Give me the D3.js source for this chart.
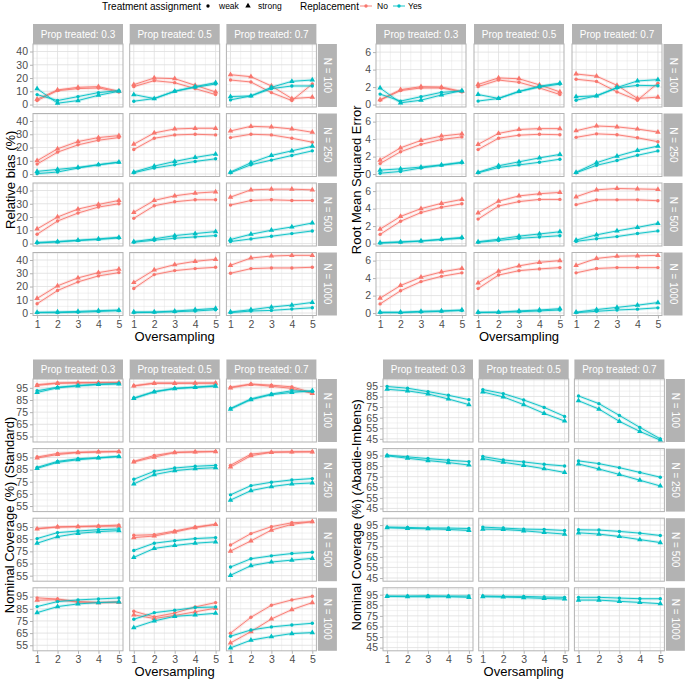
<!DOCTYPE html>
<html><head><meta charset="utf-8">
<script src="https://cdn.jsdelivr.net/npm/d3@7"></script>
<style>
body{margin:0;background:#fff}
text{font-family:"Liberation Sans",Arial,Helvetica,sans-serif}
</style>
</head><body>
<svg id="chart" width="685" height="682"></svg>
<script>
// ---------- categories ----------
const oversampling = [1, 2, 3, 4, 5];
const propTreated = ["0.3", "0.5", "0.7"];
const sampleSizes = [100, 250, 500, 1000];
const replacementLevels = ["No", "Yes"];
const assignmentLevels = ["weak", "strong"];
const replacementColors = ["#F8766D", "#00BFC4"];

// ---------- tick labels ----------
const biasTicks = [0, 10, 20, 30, 40];
const rmseTicks = [0, 2, 4, 6];
const stdTicks = [55, 65, 75, 85, 95];
const aiTicks = [45, 55, 65, 75, 85, 95];

// ---------- values: [N row][prop col][oversampling 1..5] ----------
const biasNoStrong = [
  [[4,11,13,13.5,10],[15,20,19.5,14.5,9.5],[22.5,21,14,4.5,5.5]],
  [[10,19,24.5,27.5,29],[22.5,31,34,34.5,34.5],[32.5,36,35.5,34,31.5]],
  [[11,20,26,29.5,32.5],[23.5,32.5,36,38,39],[35,40.5,41,41,40.5]],
  [[11,20.5,26.5,30.5,33],[23,32.5,36.5,39,40.5],[36,41.5,43,43.5,43.5]]
];
const biasNoWeak = [
  [[3,10.5,12,12.5,9.5],[13.5,18,16.5,12,7.5],[18.5,17,9,3,15.5]],
  [[7.5,16.5,22,25.5,27.5],[18.5,27,29.5,30,29.5],[27.5,30,29.5,27,24]],
  [[7,17,23,27.5,30],[19,28.5,31.5,33,33],[29,32.5,33,32.5,32.5]],
  [[7,17,23.5,28,30.5],[18.5,29,32,33.5,34.5],[30,33.5,34,34,34.5]]
];
const biasYesStrong = [
  [[12,1,3,7,10],[7.5,4.5,10,13.5,16.5],[6,6.5,13,17.5,18.5]],
  [[2,3.5,5,7,9],[1.5,6,9.5,12.5,15],[1.5,8.5,14,17.5,21]],
  [[0.8,1.5,2.5,3.5,4.7],[1.5,3.5,6,7.5,9],[3,7,10,12.5,15.5]],
  [[0.5,0.8,1.2,1.8,2.2],[0.8,0.8,1.5,2.5,3.5],[0.8,2.5,4.5,6,8]]
];
const biasYesWeak = [
  [[7.5,3,6,9,10.5],[2.5,4.5,10,13,15.5],[3.5,6.5,12,14,14]],
  [[0.3,1.5,4.5,7,8.8],[1,4.5,7,9.5,11.5],[1,7,10.5,14,17.5]],
  [[0.4,1.2,2.2,3.1,4.2],[1,2.5,4,5,6],[1.5,3.5,5.5,7.5,9.5]],
  [[0.3,0.3,0.6,1.2,1.8],[0.3,0.5,1,1.5,2.5],[0.3,1.5,2,3,4]]
];

const rmseNoStrong = [
  [[0.55,1.7,2.05,2.0,1.5],[2.3,3.05,2.95,2.25,1.45],[3.5,3.25,2.2,0.7,0.85]],
  [[1.6,3.0,3.85,4.35,4.6],[3.4,4.65,5.1,5.2,5.2],[4.95,5.5,5.4,5.15,4.8]],
  [[1.65,3.1,4.0,4.6,5.05],[3.5,4.85,5.45,5.7,5.85],[5.35,6.15,6.3,6.25,6.2]],
  [[1.7,3.15,4.1,4.7,5.1],[3.45,4.8,5.4,5.8,6.0],[5.45,6.25,6.5,6.55,6.6]]
];
const rmseNoWeak = [
  [[0.5,1.6,1.9,1.9,1.45],[2.05,2.8,2.55,1.9,1.15],[2.9,2.65,1.45,0.5,2.45]],
  [[1.2,2.55,3.4,3.95,4.25],[2.8,4.1,4.45,4.55,4.5],[4.2,4.6,4.5,4.15,3.7]],
  [[1.05,2.55,3.55,4.15,4.55],[2.8,4.3,4.8,5.05,5.05],[4.45,5.0,5.0,5.0,4.9]],
  [[1.05,2.55,3.6,4.2,4.6],[2.8,4.35,4.85,5.05,5.2],[4.6,5.1,5.2,5.2,5.2]]
];
const rmseYesStrong = [
  [[1.9,0.2,0.5,1.1,1.6],[1.15,0.7,1.5,2.1,2.45],[0.9,1.0,1.95,2.7,2.85]],
  [[0.45,0.6,0.8,1.05,1.35],[0.2,0.95,1.4,1.85,2.25],[0.2,1.3,2.05,2.7,3.2]],
  [[0.1,0.2,0.3,0.5,0.7],[0.2,0.5,0.85,1.1,1.35],[0.4,1.0,1.45,1.85,2.3]],
  [[0.1,0.1,0.2,0.25,0.35],[0.1,0.1,0.25,0.35,0.5],[0.1,0.4,0.65,0.9,1.2]]
];
const rmseYesWeak = [
  [[1.2,0.4,0.9,1.4,1.55],[0.4,0.7,1.5,2.0,2.35],[0.5,1.0,1.9,2.2,2.15]],
  [[0.1,0.3,0.7,1.0,1.3],[0.15,0.75,1.05,1.35,1.7],[0.15,1.0,1.55,2.15,2.65]],
  [[0.05,0.15,0.28,0.45,0.62],[0.15,0.35,0.6,0.75,0.9],[0.25,0.55,0.8,1.15,1.45]],
  [[0.05,0.05,0.12,0.2,0.3],[0.05,0.1,0.15,0.25,0.35],[0.05,0.2,0.35,0.45,0.6]]
];

const stdNoStrong = [
  [[97,98.7,99,99.2,99.3],[96.5,98.7,98.7,98.8,98.8],[95,97.8,96.3,94.5,90.4]],
  [[94.5,97.4,99,99.5,99.8],[91.3,95.3,99,99.5,99.8],[87.1,96.4,99.2,99.5,99.6]],
  [[93.5,95,95.3,95.6,95.8],[86.3,87.6,90.9,94.5,97.1],[75.2,83.6,92.5,97.2,99.4]],
  [[92,92.5,90.5,90,90.4],[80,77,79.5,82.5,85.5],[56.9,66.2,76.6,84.3,90.1]]
];
const stdNoWeak = [
  [[97.6,99,99.3,99.4,99.5],[96.7,98.9,98.9,98.9,99],[95.5,98.1,97.2,95.8,91]],
  [[95.3,98.3,99.2,99.6,99.9],[91.7,96.6,99.2,99.6,99.9],[88.5,97.7,99.4,99.6,99.7]],
  [[93.7,95.1,95.5,95.9,96.6],[88.2,88.7,91.7,95,97.2],[80.2,89.6,95.3,98.5,99.4]],
  [[94,93,91,90.2,90.6],[83,78.3,81.5,86.5,90.1],[64.9,78,87.9,92.3,95.3]]
];
const stdYesStrong = [
  [[91.2,95,96.6,97.7,98.2],[86.2,91.6,94.3,95.3,96.4],[77.5,85.3,89.4,91.2,92.6]],
  [[86,91,93.1,94.5,95.7],[73.2,80.9,84.1,85.7,86.6],[59.9,67.7,71,73.2,74]],
  [[81.7,87.1,89.8,91.2,92],[70,77.4,79.8,81.7,82.8],[55.3,63.2,66.2,67.8,69.2]],
  [[81.8,86.8,89,90.1,90.6],[69.5,75,78.8,79.9,81.3],[52.8,59.2,62.1,64.6,65.4]]
];
const stdYesWeak = [
  [[92.6,95.5,96.9,98,98.5],[86.6,91.9,94.6,95.6,96.7],[78,85.9,89.9,92.6,92]],
  [[86.8,91.7,93.9,94.8,95.9],[77,83.6,86.3,87.7,88.5],[64.2,71.8,74.6,76.5,77.6]],
  [[85.5,90.4,91.7,92.8,93.4],[75.7,81.7,83.8,85.5,86.3],[62.1,68.9,71.3,73.2,74.3]],
  [[86.8,90.9,92.3,93.1,93.9],[76.4,81.8,83.8,86,86.5],[62.4,67.6,70.1,71.7,73.1]]
];

const aiYesWeak = [
  [[94.4,92.8,89.6,86.1,82],[91.5,87.7,81.7,74.7,66.2],[85.5,78.2,67.1,55.8,45]],
  [[95.3,93.7,92.1,90.5,89.2],[94,90.8,88.9,86.7,85.1],[89.9,87.3,83.5,79,74.5]],
  [[93.1,92.8,92.2,92.2,91.8],[93.1,92.2,91.2,90.9,89.9],[90.6,90.3,89,87.4,85.2]],
  [[93.7,93.7,94,93.7,93.7],[93.7,93.4,93.4,92.8,92.5],[92.5,92.5,91.8,91.2,91.2]]
];
const aiYesStrong = [
  [[91.8,90.3,87.4,82.6,77.3],[89.3,84.6,77.3,69,61.8],[81,73.1,61.5,52,43.7]],
  [[94.7,92.4,90.2,88.3,86],[92.1,88.6,85.7,82.5,79],[87,82.2,77.1,71.6,66.2]],
  [[92.5,91.8,91.5,90.9,89.9],[91.2,90.9,89.6,88,86.5],[87.7,86.5,84.2,81.3,78.5]],
  [[93.4,93.1,93.1,93.1,92.5],[93.1,92.8,92.2,91.5,90.9],[89.9,89.9,88.7,87.7,86.5]]
];

// ---------- plot definitions ----------
const plots = [
  {title: "Relative bias (%)", ticks: biasTicks, domain: null,
   series: {No: {weak: biasNoWeak, strong: biasNoStrong}, Yes: {weak: biasYesWeak, strong: biasYesStrong}},
   layout: {x0: 33, colW: 90, colGap: 6.7, stripY: 24, stripH: 20, rowH: 63, rowGap: 6.5, titleX: 10}},
  {title: "Root Mean Squared Error", ticks: rmseTicks, domain: null,
   series: {No: {weak: rmseNoWeak, strong: rmseNoStrong}, Yes: {weak: rmseYesWeak, strong: rmseYesStrong}},
   layout: {x0: 376, colW: 90, colGap: 8, stripY: 24, stripH: 20, rowH: 63, rowGap: 6.5, titleX: 356}},
  {title: "Nominal Coverage (%) (Standard)", ticks: stdTicks, domain: null,
   series: {No: {weak: stdNoWeak, strong: stdNoStrong}, Yes: {weak: stdYesWeak, strong: stdYesStrong}},
   layout: {x0: 33, colW: 90, colGap: 6.7, stripY: 359.5, stripH: 19.5, rowH: 63, rowGap: 6.6, titleX: 9}},
  {title: "Nominal Coverage (%) (Abadie-Imbens)", ticks: aiTicks, domain: [42, 101.5],
   series: {Yes: {weak: aiYesWeak, strong: aiYesStrong}},
   layout: {x0: 383, colW: 90, colGap: 5.7, stripY: 359.5, stripH: 19.5, rowH: 63, rowGap: 6.6, titleX: 356}}
];

const svg = d3.select("#chart");
const GRID = "#DEDEDE", BORDER = "#B3B3B3", STRIP = "#B3B3B3", AXT = "#4D4D4D";

function symbolFor(assign) {
  return assign === "weak" ? d3.symbol(d3.symbolCircle, 9)() : d3.symbol(d3.symbolTriangle, 13)();
}

function drawPlot(p) {
  const L = p.layout;
  const g = svg.append("g");
  let dom = p.domain;
  if (!dom) {
    const all = [];
    Object.values(p.series).forEach(s => Object.values(s).forEach(arr => arr.flat(2).forEach(v => all.push(v))));
    const [mn, mx] = d3.extent(all);
    const pad = (mx - mn) * 0.05;
    dom = [mn - pad, mx + pad];
  }
  const x = d3.scaleLinear().domain([0.8, 5.2]).range([0, L.colW]);
  const y = d3.scaleLinear().domain(dom).range([L.rowH, 0]);
  const colLeft = c => L.x0 + c * (L.colW + L.colGap);
  const rowTop = r => L.stripY + L.stripH + r * (L.rowH + L.rowGap);
  const tickStep = p.ticks[1] - p.ticks[0];
  const minorY = [];
  for (let v = p.ticks[0] - tickStep / 2; v <= p.ticks[p.ticks.length - 1] + tickStep / 2 + 1e-9; v += tickStep) {
    if (v >= dom[0] && v <= dom[1]) minorY.push(v);
  }
  const minorX = [1.5, 2.5, 3.5, 4.5];
  const line = d3.line().x(d => x(d.x)).y(d => y(d.y));

  sampleSizes.forEach((n, r) => {
    propTreated.forEach((pt, c) => {
      const pg = g.append("g").attr("transform", `translate(${colLeft(c)},${rowTop(r)})`);
      pg.append("rect").attr("width", L.colW).attr("height", L.rowH).attr("fill", "#fff");
      pg.selectAll(".mnx").data(minorX).join("line").attr("class", "mnx")
        .attr("x1", d => x(d)).attr("x2", d => x(d)).attr("y1", 0).attr("y2", L.rowH)
        .attr("stroke", GRID).attr("stroke-width", 0.4);
      pg.selectAll(".mny").data(minorY).join("line").attr("class", "mny")
        .attr("x1", 0).attr("x2", L.colW).attr("y1", d => y(d)).attr("y2", d => y(d))
        .attr("stroke", GRID).attr("stroke-width", 0.4);
      pg.selectAll(".mjx").data(oversampling).join("line").attr("class", "mjx")
        .attr("x1", d => x(d)).attr("x2", d => x(d)).attr("y1", 0).attr("y2", L.rowH)
        .attr("stroke", GRID).attr("stroke-width", 0.8);
      pg.selectAll(".mjy").data(p.ticks).join("line").attr("class", "mjy")
        .attr("x1", 0).attr("x2", L.colW).attr("y1", d => y(d)).attr("y2", d => y(d))
        .attr("stroke", GRID).attr("stroke-width", 0.8);
      replacementLevels.forEach((rep, ri) => {
        if (!p.series[rep]) return;
        const col = replacementColors[ri];
        assignmentLevels.forEach(as => {
          const vals = p.series[rep][as][r][c];
          const pts = oversampling.map((xv, i) => ({x: xv, y: vals[i]}));
          pg.append("path").datum(pts).attr("d", line).attr("fill", "none")
            .attr("stroke", col).attr("stroke-opacity", 0.18).attr("stroke-width", 3);
          pg.append("path").datum(pts).attr("d", line).attr("fill", "none")
            .attr("stroke", col).attr("stroke-width", 0.9);
          pg.selectAll(null).data(pts).join("path")
            .attr("transform", d => `translate(${x(d.x)},${y(d.y)})`)
            .attr("d", symbolFor(as)).attr("fill", col);
        });
      });
      pg.append("rect").attr("width", L.colW).attr("height", L.rowH)
        .attr("fill", "none").attr("stroke", BORDER).attr("stroke-width", 1);
      if (c === 0) {
        const ax = pg.append("g").call(d3.axisLeft(y).tickValues(p.ticks).tickSize(3).tickPadding(2));
        ax.select(".domain").remove();
        ax.selectAll("line").attr("stroke", BORDER);
        ax.selectAll("text").attr("fill", AXT).style("font-size", "10.5px")
          .style("font-family", '"Liberation Sans",Arial,sans-serif');
      }
      if (r === sampleSizes.length - 1) {
        const ax = pg.append("g").attr("transform", `translate(0,${L.rowH})`)
          .call(d3.axisBottom(x).tickValues(oversampling).tickFormat(d3.format("d")).tickSize(3).tickPadding(2));
        ax.select(".domain").remove();
        ax.selectAll("line").attr("stroke", BORDER);
        ax.selectAll("text").attr("fill", AXT).style("font-size", "10.5px")
          .style("font-family", '"Liberation Sans",Arial,sans-serif');
      }
    });
  });

  propTreated.forEach((pt, c) => {
    g.append("rect").attr("x", colLeft(c)).attr("y", L.stripY).attr("width", L.colW).attr("height", L.stripH).attr("fill", STRIP);
    g.append("text").attr("x", colLeft(c) + L.colW / 2).attr("y", L.stripY + L.stripH / 2)
      .attr("text-anchor", "middle").attr("dominant-baseline", "central")
      .attr("fill", "#fff").style("font-size", "10px").text("Prop treated: " + pt);
  });
  const sx = colLeft(2) + L.colW + 1.5;
  sampleSizes.forEach((n, r) => {
    g.append("rect").attr("x", sx).attr("y", rowTop(r)).attr("width", 19).attr("height", L.rowH).attr("fill", STRIP);
    g.append("text").attr("transform", `translate(${sx + 9.5},${rowTop(r) + L.rowH / 2}) rotate(90)`)
      .attr("text-anchor", "middle").attr("dominant-baseline", "central")
      .attr("fill", "#fff").style("font-size", "10px").text("N = " + n);
  });
  const bottom = rowTop(3) + L.rowH;
  const xMid = (colLeft(0) + colLeft(2) + L.colW) / 2;
  g.append("text").attr("x", xMid).attr("y", bottom + 25).attr("text-anchor", "middle")
    .style("font-size", "13px").attr("fill", "#000").text("Oversampling");
  const yMid = (rowTop(0) + bottom) / 2;
  g.append("text").attr("transform", `translate(${L.titleX},${yMid}) rotate(-90)`)
    .attr("text-anchor", "middle").attr("dominant-baseline", "central")
    .style("font-size", "13px").attr("fill", "#000").text(p.title);
}

plots.forEach(drawPlot);

// ---------- legend ----------
const lg = svg.append("g");
lg.append("text").attr("x", 102).attr("y", 6).attr("dominant-baseline", "central")
  .style("font-size", "10px").text("Treatment assignment");
const shapeKeys = [{a: "weak", sx: 208, tx: 219}, {a: "strong", sx: 248, tx: 258}];
shapeKeys.forEach(k => {
  lg.append("path").attr("transform", `translate(${k.sx},6)`).attr("d", symbolFor(k.a)).attr("fill", "#000");
  lg.append("text").attr("x", k.tx).attr("y", 6).attr("dominant-baseline", "central")
    .style("font-size", "8.5px").text(k.a);
});
lg.append("text").attr("x", 300).attr("y", 6).attr("dominant-baseline", "central")
  .style("font-size", "10px").text("Replacement");
const repKeys = [{sx: 366, tx: 377}, {sx: 399, tx: 408}];
replacementLevels.forEach((rep, i) => {
  const k = repKeys[i];
  lg.append("line").attr("x1", k.sx - 6).attr("x2", k.sx + 6).attr("y1", 6).attr("y2", 6)
    .attr("stroke", replacementColors[i]).attr("stroke-width", 0.9);
  lg.append("path").attr("transform", `translate(${k.sx},6)`).attr("d", d3.symbol(d3.symbolCircle, 9)()).attr("fill", replacementColors[i]);
  lg.append("text").attr("x", k.tx).attr("y", 6).attr("dominant-baseline", "central")
    .style("font-size", "8.5px").text(rep);
});
</script>
</body></html>
